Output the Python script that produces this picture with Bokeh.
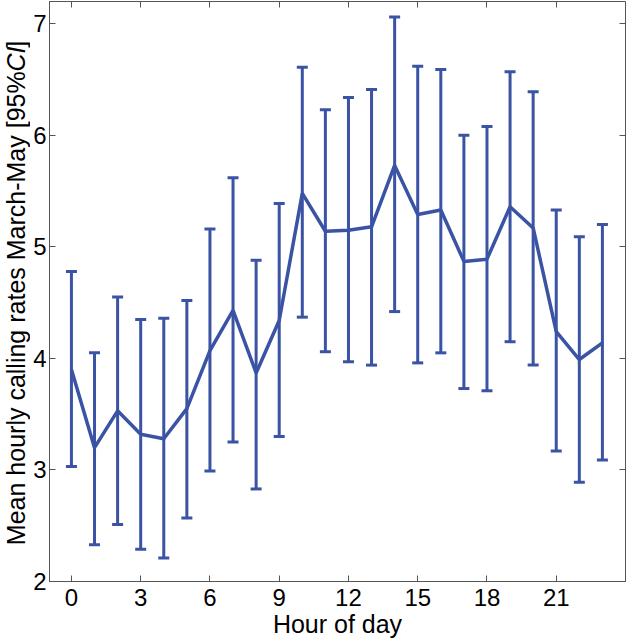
import math
from bokeh.plotting import figure
from bokeh.layouts import row
from bokeh.models import (ColumnDataSource, Whisker, TeeHead, LinearAxis,
                          FixedTicker, Range1d)
from bokeh.core.properties import value
from bokeh.embed import file_html
from bokeh.resources import INLINE

# ---- data ----
hours = list(range(24))
mean_rate = [3.90, 3.20, 3.53, 3.32, 3.28, 3.55, 4.07, 4.43, 3.87, 4.34,
             5.48, 5.14, 5.15, 5.18, 5.73, 5.29, 5.33, 4.87, 4.89, 5.36,
             5.17, 4.24, 3.99, 4.14]
upper_ci = [4.78, 4.05, 4.55, 4.35, 4.36, 4.52, 5.16, 5.62, 4.88, 5.39,
            6.61, 6.23, 6.34, 6.41, 7.06, 6.62, 6.59, 6.00, 6.08, 6.57,
            6.39, 5.33, 5.09, 5.20]
lower_ci = [3.03, 2.33, 2.51, 2.29, 2.21, 2.57, 2.99, 3.25, 2.83, 3.30,
            4.37, 4.06, 3.97, 3.94, 4.42, 3.96, 4.05, 3.73, 3.71, 4.15,
            3.94, 3.17, 2.89, 3.09]
x_ticks = [0, 3, 6, 9, 12, 15, 18, 21]
y_ticks = [2, 3, 4, 5, 6, 7]
y_label_parts = ["Mean hourly calling rates March-May [95%", "CI", " ]"]

BLUE = "#3a53a4"
GREY = "#555555"
FONT = "Liberation Sans"
H = 640
TOP, BOTTOM = 1, 57
W_LAB = 30

src = ColumnDataSource(dict(hour=hours, mean=mean_rate, upper=upper_ci, lower=lower_ci))

p = figure(width=627 - W_LAB, height=H, output_backend="svg", toolbar_location=None,
           x_range=Range1d(-0.95, 24.0), y_range=Range1d(2, 7.2),
           min_border_left=47 - W_LAB, min_border_right=2, min_border_top=TOP,
           min_border_bottom=BOTTOM)
p.background_fill_color = "white"
p.border_fill_color = "white"
p.outline_line_color = GREY
p.outline_line_width = 1
p.xgrid.visible = False
p.ygrid.visible = False

# error bars and mean line
wh = Whisker(source=src, base="hour", upper="upper", lower="lower",
             line_color=BLUE, line_width=3,
             upper_head=TeeHead(size=11, line_color=BLUE, line_width=3),
             lower_head=TeeHead(size=11, line_color=BLUE, line_width=3))
p.add_layout(wh)
p.line("hour", "mean", source=src, line_color=BLUE, line_width=3.5)

# axes
for ax, ticks in ((p.xaxis[0], x_ticks), (p.yaxis[0], y_ticks)):
    ax.ticker = FixedTicker(ticks=ticks)
    ax.major_tick_in = 6
    ax.major_tick_out = 0
    ax.minor_tick_line_color = None
    ax.major_tick_line_color = GREY
    ax.axis_line_color = GREY
    ax.major_label_text_font = FONT
    ax.major_label_text_font_size = "24px"
    ax.major_label_text_color = "black"
p.xaxis.major_label_standoff = 7
p.yaxis.major_label_standoff = 3

p.xaxis.axis_label = "Hour of day"
p.xaxis.axis_label_text_font = FONT
p.xaxis.axis_label_text_font_size = "25px"
p.xaxis.axis_label_text_font_style = "normal"
p.xaxis.axis_label_text_color = "black"
p.xaxis.axis_label_standoff = 1

# mirrored ticks on top and right
for place, ticks in (("above", x_ticks), ("right", y_ticks)):
    ax = LinearAxis(ticker=FixedTicker(ticks=ticks), major_tick_in=6, major_tick_out=0,
                    minor_tick_line_color=None, major_tick_line_color=GREY,
                    axis_line_color=None, major_label_text_font_size="1px",
                    major_label_text_alpha=0, major_label_standoff=0)
    p.add_layout(ax, place)

# y-axis label with italic "CI": a narrow strip figure in pixel coordinates
yl = figure(width=W_LAB, height=H, output_backend="svg", toolbar_location=None,
            x_range=Range1d(0, W_LAB), y_range=Range1d(0, H),
            min_border_left=0, min_border_right=0, min_border_top=0, min_border_bottom=0)
yl.axis.visible = False
yl.grid.visible = False
yl.outline_line_color = None
yl.background_fill_color = "white"
yl.border_fill_color = "white"

fs = 25
widths = [18.95 * fs, 1.0 * fs, 0.556 * fs]
center = H - (TOP + (H - BOTTOM)) / 2.0
start = center - sum(widths) / 2.0
# centre of each piece; the renderer places centred rotated text about 6% of
# its width too far along the text, so pull each anchor back by that amount
shift = 0.057
mids = [start + widths[0] / 2 - shift * widths[0],
        start + widths[0] + widths[1] / 2 - shift * widths[1],
        start + widths[0] + widths[1] + widths[2] / 2 - shift * widths[2]]
styles = ["normal", "italic", "normal"]
for txt, ym, st in zip(y_label_parts, mids, styles):
    yl.text(x=[15.5], y=[ym], text=[txt], angle=math.pi / 2,
            text_font=value(FONT), text_font_size=f"{fs}px", text_font_style=st,
            text_color="black", text_align="center", text_baseline="middle")

layout = row(yl, p, spacing=0)
open("out.html", "w").write(file_html(layout, INLINE))
